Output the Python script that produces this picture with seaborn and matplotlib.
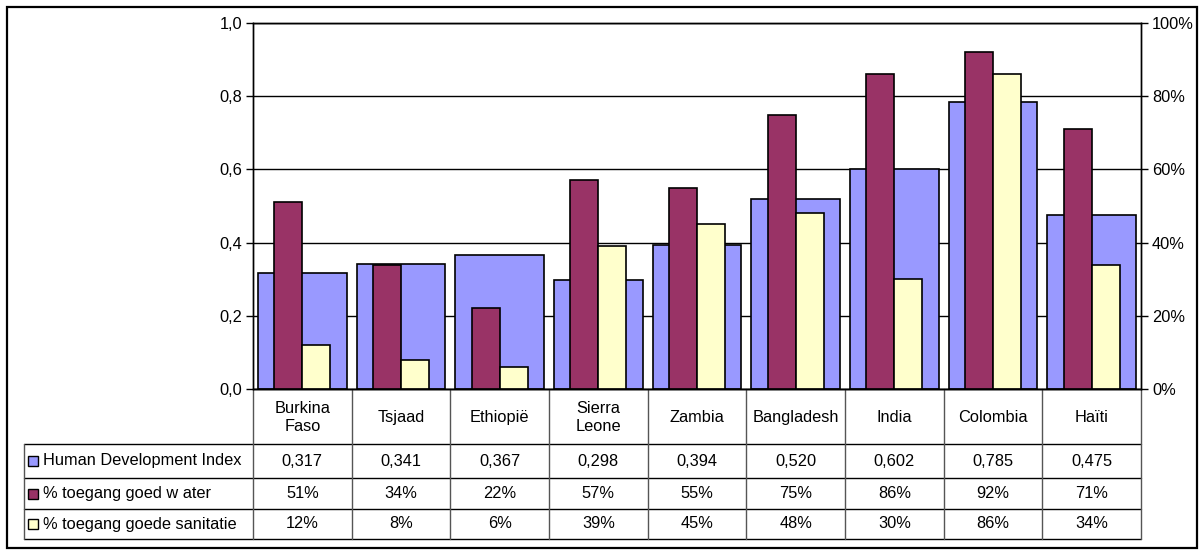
import matplotlib
matplotlib.use("Agg")
import matplotlib.pyplot as plt
from matplotlib.patches import Rectangle
from matplotlib.ticker import FuncFormatter
import seaborn as sns
import pandas as pd

# --- data -------------------------------------------------------------
landen = ["Burkina\nFaso", "Tsjaad", "Ethiopië", "Sierra\nLeone", "Zambia",
          "Bangladesh", "India", "Colombia", "Haïti"]
hdi = [0.317, 0.341, 0.367, 0.298, 0.394, 0.520, 0.602, 0.785, 0.475]
water = [51, 34, 22, 57, 55, 75, 86, 92, 71]
sanitatie = [12, 8, 6, 39, 45, 48, 30, 86, 34]

reeks_namen = ["Human Development Index", "% toegang goed w ater",
               "% toegang goede sanitatie"]
kleuren = ["#9999FF", "#993366", "#FFFFCC"]

# --- style ------------------------------------------------------------
sns.set_style("white")
plt.rcParams["font.family"] = ["Liberation Sans", "DejaVu Sans"]
plt.rcParams["text.color"] = "black"
plt.rcParams["ytick.labelcolor"] = "black"
FS = 11.8

W, H = 1201, 552
fig = plt.figure(figsize=(W / 100, H / 100), dpi=100)

# plot area in pixel coordinates
x0, x1 = 253, 1141
y_top, y_bot = 23, 389
ax = fig.add_axes([x0 / W, 1 - y_bot / H, (x1 - x0) / W, (y_bot - y_top) / H])

# wide HDI bars on the primary axis
sns.barplot(x=list(range(len(landen))), y=hdi, ax=ax, width=0.9,
            color=kleuren[0], edgecolor="black", linewidth=1.2,
            saturation=1, native_scale=True)
ax.set_xlim(-0.5, len(landen) - 0.5)
ax.set_ylim(0, 1.0)
ax.set_yticks([0, 0.2, 0.4, 0.6, 0.8, 1.0])
ax.yaxis.set_major_formatter(FuncFormatter(lambda v, p: f"{v:.1f}".replace(".", ",")))
ax.grid(axis="y", color="black", linewidth=1)
ax.set_axisbelow(True)
ax.set_xticks([])
ax.set_xlabel("")
ax.tick_params(axis="y", left=True, length=5, width=1, color="black",
               labelcolor="black", labelsize=FS, pad=3, direction="out")
for s in ax.spines.values():
    s.set_color("black")
    s.set_linewidth(1)

# narrower water / sanitation bars on the secondary axis
ax2 = ax.twinx()
df = pd.DataFrame({
    "land": list(range(len(landen))) * 2,
    "waarde": water + sanitatie,
    "reeks": [reeks_namen[1]] * len(landen) + [reeks_namen[2]] * len(landen),
})
sns.barplot(data=df, x="land", y="waarde", hue="reeks", ax=ax2, width=0.57,
            palette=kleuren[1:], edgecolor="black", linewidth=1.2,
            saturation=1, legend=False, native_scale=True)
ax2.set_xlim(-0.5, len(landen) - 0.5)
ax2.set_ylim(0, 100)
ax2.set_yticks([0, 20, 40, 60, 80, 100])
ax2.yaxis.set_major_formatter(FuncFormatter(lambda v, p: f"{v:.0f}%"))
ax2.set_ylabel("")
ax2.set_xlabel("")
ax2.set_xticks([])
ax2.tick_params(axis="y", right=True, length=5, width=1, color="black",
                labelcolor="black", labelsize=FS, pad=3, direction="out")
for s in ax2.spines.values():
    s.set_color("black")
    s.set_linewidth(1)

# --- data table below the plot ---------------------------------------
tr = ax.get_xaxis_transform()
ph = y_bot - y_top


def ay(ypix):
    return (y_bot - ypix) / ph


cat_w = (x1 - x0) / len(landen)
x_left = -0.5 + (24 - x0) / cat_w
rows_y = [389, 444, 478, 509, 539]
grid_kw = dict(transform=tr, clip_on=False, linewidth=1)

# horizontal lines
ax.plot([-0.5, len(landen) - 0.5], [ay(rows_y[0])] * 2, color="black", **grid_kw)
for yy in rows_y[1:]:
    ax.plot([x_left, len(landen) - 0.5], [ay(yy)] * 2, color="black", **grid_kw)
# vertical lines
ax.plot([x_left, x_left], [ay(rows_y[1]), ay(rows_y[-1])], color="#555555", **grid_kw)
for k in range(len(landen) + 1):
    xv = -0.5 + k
    ax.plot([xv, xv], [ay(rows_y[0]), ay(rows_y[-1])], color="#555555", **grid_kw)

# category names
for i, naam in enumerate(landen):
    ax.text(i, ay((rows_y[0] + rows_y[1]) / 2 + 1), naam, transform=tr,
            ha="center", va="center", fontsize=FS, linespacing=1.3, clip_on=False)

# values and series labels
waarden = [
    [f"{v:.3f}".replace(".", ",") for v in hdi],
    [f"{v}%" for v in water],
    [f"{v}%" for v in sanitatie],
]
for r in range(3):
    yc = ay((rows_y[r + 1] + rows_y[r + 2]) / 2)
    for i, t in enumerate(waarden[r]):
        ax.text(i, yc, t, transform=tr, ha="center", va="center",
                fontsize=FS, clip_on=False)
    # legend swatch + label
    sw_s = 10
    ypx = (rows_y[r + 1] + rows_y[r + 2]) / 2
    fig.patches.append(Rectangle((28 / W, 1 - (ypx + sw_s / 2) / H), sw_s / W, sw_s / H,
                                 transform=fig.transFigure, facecolor=kleuren[r],
                                 edgecolor="black", linewidth=1))
    fig.text(43 / W, 1 - ypx / H, reeks_namen[r], ha="left", va="center",
             fontsize=FS)

# outer chart border
fig.patches.append(Rectangle((6.5 / W, 1 - 548 / H), (1197 - 6.5) / W, (548 - 7) / H,
                             transform=fig.transFigure, facecolor="none",
                             edgecolor="black", linewidth=1.6))

fig.savefig("out.png", dpi=100)
